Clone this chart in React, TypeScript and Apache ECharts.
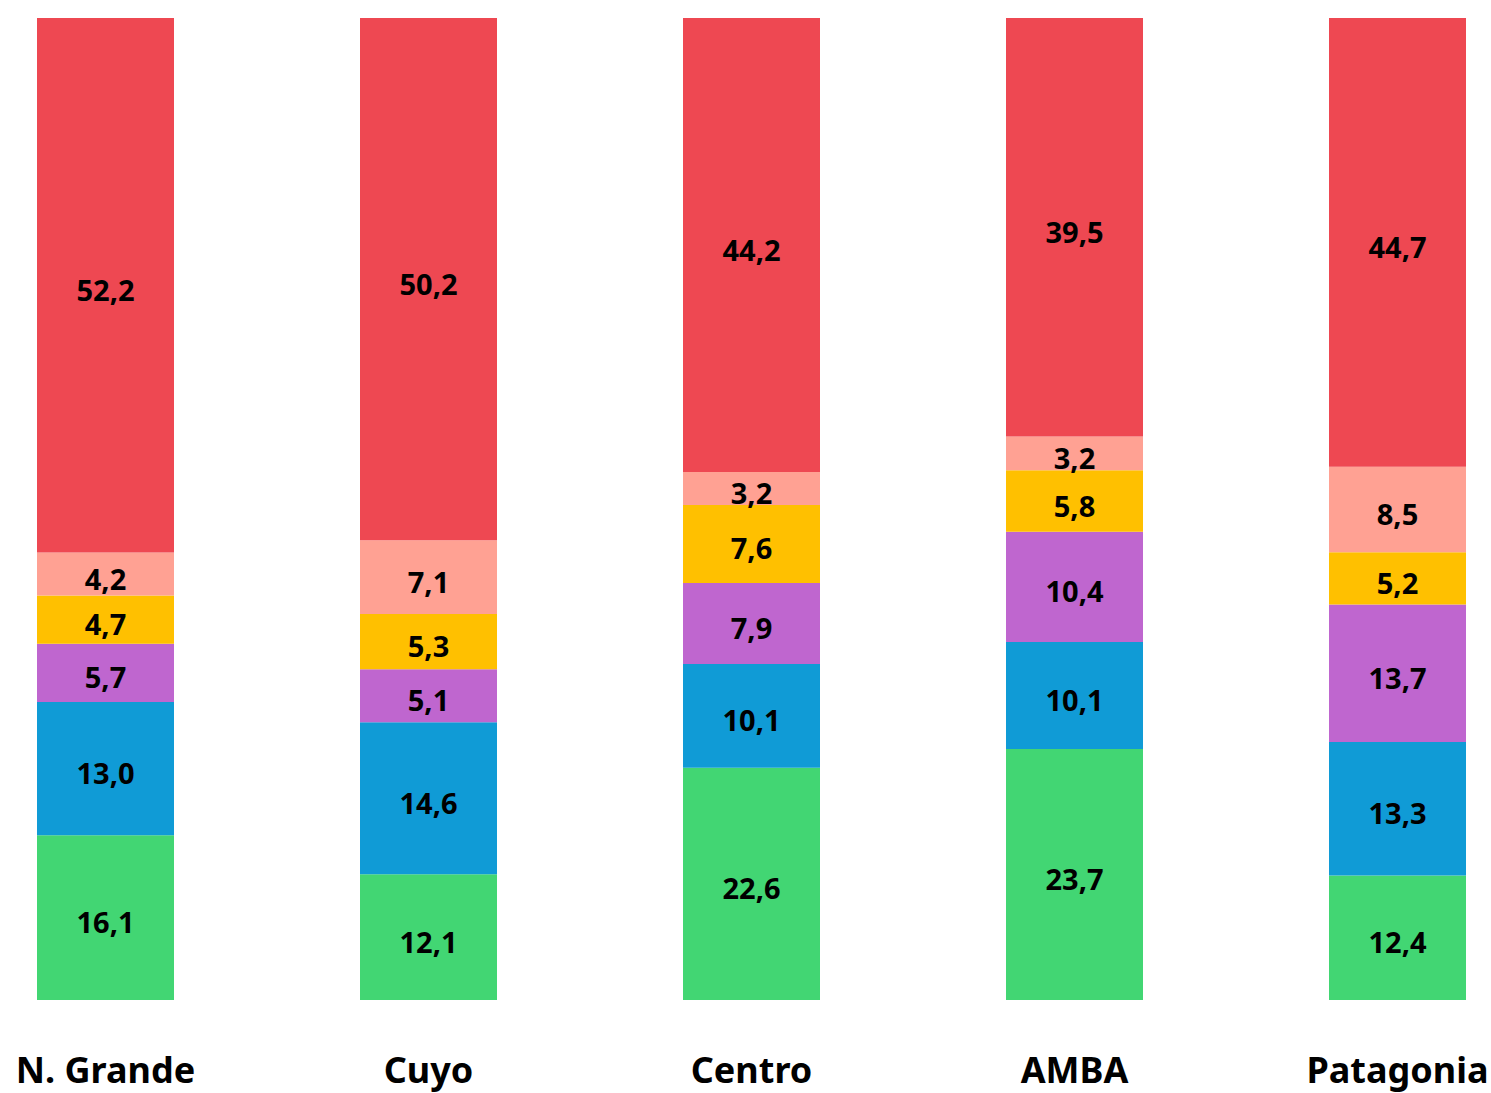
import React, { useEffect, useRef } from "react";
import * as echarts from "echarts";

const categories = ["N. Grande", "Cuyo", "Centro", "AMBA", "Patagonia"];
const greenValues = [16.1, 12.1, 22.6, 23.7, 12.4];
const blueValues = [13.0, 14.6, 10.1, 10.1, 13.3];
const purpleValues = [5.7, 5.1, 7.9, 10.4, 13.7];
const yellowValues = [4.7, 5.3, 7.6, 5.8, 5.2];
const pinkValues = [4.2, 7.1, 3.2, 3.2, 8.5];
const redValues = [52.2, 50.2, 44.2, 39.5, 44.7];

const seriesDefs = [
  { name: "verde", values: greenValues, color: "#42D673" },
  { name: "azul", values: blueValues, color: "#109BD6" },
  { name: "violeta", values: purpleValues, color: "#BF66CF" },
  { name: "amarillo", values: yellowValues, color: "#FFC000" },
  { name: "rosa", values: pinkValues, color: "#FFA193" },
  { name: "rojo", values: redValues, color: "#EE4852" },
];

const FONT = "'Noto Sans', sans-serif";

export default function App() {
  const ref = useRef<HTMLDivElement>(null);
  useEffect(() => {
    document.body.style.margin = "0";
    document.body.style.overflow = "hidden";
    if (!ref.current) return;
    const chart = echarts.init(ref.current, null, { renderer: "svg" });
    const totals = categories.map((_, i) =>
      seriesDefs.reduce((s, d) => s + d.values[i], 0)
    );
    chart.setOption({
      animation: false,
      grid: { left: 0, right: 0, top: 18, height: 982 },
      xAxis: {
        type: "category",
        data: categories,
        axisLine: { show: false },
        axisTick: { show: false },
        axisLabel: {
          margin: 51,
          fontFamily: FONT,
          fontWeight: "bold",
          fontSize: 36,
          color: "#000",
        },
      },
      yAxis: { type: "value", min: 0, max: 100, show: false },
      series: seriesDefs.map((d) => ({
        name: d.name,
        type: "bar",
        stack: "total",
        barWidth: 137,
        itemStyle: { color: d.color },
        label: {
          show: true,
          position: "inside",
          offset: [0, 4],
          fontFamily: FONT,
          fontWeight: "bold",
          fontSize: 29,
          color: "#000",
          formatter: (p: any) => d.values[p.dataIndex].toFixed(1).replace(".", ","),
        },
        data: d.values.map((v, i) => (v / totals[i]) * 100),
      })),
    });
    return () => chart.dispose();
  }, []);
  return (
    <div
      ref={ref}
      style={{ position: "absolute", left: -56.5, top: 0, width: 1615, height: 1093 }}
    />
  );
}
